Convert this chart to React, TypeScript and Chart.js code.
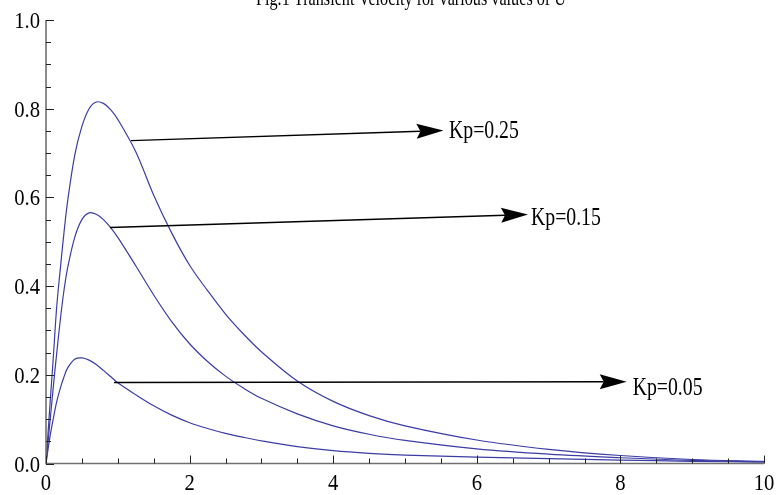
import React, { useEffect, useRef } from "react";
import { Chart, registerables } from "chart.js";

Chart.register(...registerables);

// ---- data ----
const TITLE = "Fig.1 Transient Velocity for various values of U";
const timeValues = [0, 0.05, 0.1, 0.15, 0.2, 0.25, 0.3, 0.4, 0.5, 0.6, 0.7, 0.8, 0.9, 1.0, 1.25, 1.5, 1.75, 2.0, 2.25, 2.5, 2.75, 3.0, 3.5, 4.0, 4.5, 5.0, 6.0, 7.0, 8.0, 9.0, 10.0];
const velocityKp025 = [0, 0.12, 0.235, 0.355, 0.44, 0.52, 0.59, 0.695, 0.76, 0.8, 0.815, 0.812, 0.798, 0.776, 0.703, 0.605, 0.52, 0.447, 0.39, 0.337, 0.292, 0.252, 0.186, 0.14, 0.108, 0.085, 0.053, 0.032, 0.018, 0.009, 0.005];
const velocityKp015 = [0, 0.085, 0.17, 0.25, 0.325, 0.39, 0.44, 0.51, 0.55, 0.565, 0.562, 0.55, 0.532, 0.51, 0.446, 0.38, 0.32, 0.27, 0.23, 0.197, 0.17, 0.147, 0.112, 0.085, 0.066, 0.052, 0.033, 0.021, 0.013, 0.007, 0.004];
const velocityKp005 = [0, 0.055, 0.1, 0.14, 0.17, 0.195, 0.215, 0.235, 0.238, 0.233, 0.223, 0.21, 0.196, 0.182, 0.155, 0.13, 0.109, 0.092, 0.079, 0.068, 0.059, 0.051, 0.038, 0.029, 0.023, 0.019, 0.0145, 0.011, 0.0078, 0.005, 0.003];

const xTickValues = [0, 2, 4, 6, 8, 10];
const xTickLabels = ["0", "2", "4", "6", "8", "10"];
const yTickValues = [0, 0.2, 0.4, 0.6, 0.8, 1.0];
const yTickLabels = ["0.0", "0.2", "0.4", "0.6", "0.8", "1.0"];

const annotationTexts = ["Kp=0.25", "Kp=0.15", "Kp=0.05"];
const arrowStartX = [1.184, 0.891, 0.947];
const arrowStartY = [0.728, 0.532, 0.1826];
const arrowTipX = [5.536, 6.713, 8.088];
const arrowTipY = [0.751, 0.5614, 0.1844];
const labelX = [5.613, 6.755, 8.171];
const labelY = [0.733, 0.5377, 0.1545];

const CURVE_COLOR = "#3c3ca6";
const SERIF = "'Liberation Serif', 'Times New Roman', serif";

function condensedText(ctx: CanvasRenderingContext2D, text: string, x: number, y: number, align: CanvasTextAlign, sx: number) {
  ctx.save();
  ctx.translate(x, y);
  ctx.scale(sx, 1);
  ctx.textAlign = align;
  ctx.textBaseline = "alphabetic";
  ctx.fillText(text, 0, 0);
  ctx.restore();
}

function drawArrow(ctx: CanvasRenderingContext2D, sx: number, sy: number, tx: number, ty: number) {
  const ang = Math.atan2(ty - sy, tx - sx);
  const L = 27, W = 7.5, notch = 4;
  ctx.beginPath();
  ctx.moveTo(sx, sy);
  ctx.lineTo(tx - (L - notch) * Math.cos(ang), ty - (L - notch) * Math.sin(ang));
  ctx.stroke();
  ctx.save();
  ctx.translate(tx, ty);
  ctx.rotate(ang);
  ctx.beginPath();
  ctx.moveTo(0, 0);
  ctx.lineTo(-L, -W);
  ctx.lineTo(-L + notch, 0);
  ctx.lineTo(-L, W);
  ctx.closePath();
  ctx.fill();
  ctx.restore();
}

const decorPlugin = {
  id: "decor",
  afterDatasetsDraw(chart: any) {
    const ctx: CanvasRenderingContext2D = chart.ctx;
    const xs = chart.scales.x;
    const ys = chart.scales.y;
    const x0 = xs.getPixelForValue(0);
    const x1 = xs.getPixelForValue(10);
    const y0 = ys.getPixelForValue(0);
    const y1 = ys.getPixelForValue(1);
    ctx.save();

    // axes
    ctx.strokeStyle = "#707070";
    ctx.lineWidth = 1.6;
    ctx.beginPath();
    ctx.moveTo(x0, y1);
    ctx.lineTo(x0, y0);
    ctx.lineTo(x1, y0);
    ctx.stroke();

    // ticks
    ctx.strokeStyle = "#222";
    ctx.lineWidth = 1;
    ctx.beginPath();
    for (let i = 0; i <= 20; i++) {
      const v = i * 0.5;
      const px = Math.round(xs.getPixelForValue(v)) + 0.5;
      const len = i % 4 === 0 ? 8 : 5;
      ctx.moveTo(px, y0);
      ctx.lineTo(px, y0 - len);
    }
    for (let i = 0; i <= 20; i++) {
      const v = i * 0.05;
      const py = Math.round(ys.getPixelForValue(v)) + 0.5;
      const len = i % 4 === 0 ? 8 : 5;
      ctx.moveTo(x0, py);
      ctx.lineTo(x0 + len, py);
    }
    ctx.stroke();

    // tick labels
    ctx.fillStyle = "#000";
    ctx.font = `24px ${SERIF}`;
    xTickValues.forEach((v, i) => {
      condensedText(ctx, xTickLabels[i], xs.getPixelForValue(v), y0 + 26.5, "center", 0.86);
    });
    yTickValues.forEach((v, i) => {
      condensedText(ctx, yTickLabels[i], x0 - 6, ys.getPixelForValue(v) + 8, "right", 0.86);
    });

    // title (partially off the top)
    ctx.font = `21px ${SERIF}`;
    const tw = ctx.measureText(TITLE).width;
    condensedText(ctx, TITLE, (x0 + x1) / 2 + 6, 5, "center", 310 / tw);

    // arrows & labels
    ctx.strokeStyle = "#000";
    ctx.fillStyle = "#000";
    ctx.lineWidth = 1.4;
    for (let i = 0; i < annotationTexts.length; i++) {
      drawArrow(
        ctx,
        xs.getPixelForValue(arrowStartX[i]),
        ys.getPixelForValue(arrowStartY[i]),
        xs.getPixelForValue(arrowTipX[i]),
        ys.getPixelForValue(arrowTipY[i])
      );
    }
    ctx.font = `25px ${SERIF}`;
    for (let i = 0; i < annotationTexts.length; i++) {
      condensedText(ctx, annotationTexts[i], xs.getPixelForValue(labelX[i]), ys.getPixelForValue(labelY[i]), "left", 0.79);
    }
    ctx.restore();
  },
};

function toPoints(vals: number[]) {
  return timeValues.map((t, i) => ({ x: t, y: vals[i] }));
}

export default function App() {
  const ref = useRef<HTMLCanvasElement | null>(null);
  useEffect(() => {
    if (!ref.current) return;
    const mk = (label: string, vals: number[]) => ({
      label,
      data: toPoints(vals),
      borderColor: CURVE_COLOR,
      borderWidth: 1.2,
      pointRadius: 0,
      fill: false,
      tension: 0.35,
    });
    const chart = new Chart(ref.current, {
      type: "line",
      data: {
        datasets: [mk("Kp=0.25", velocityKp025), mk("Kp=0.15", velocityKp015), mk("Kp=0.05", velocityKp005)],
      },
      options: {
        animation: false,
        responsive: false,
        layout: { padding: { left: 46, right: 16, top: 20, bottom: 31.5 } },
        plugins: { legend: { display: false }, tooltip: { enabled: false }, title: { display: false } },
        scales: {
          x: {
            type: "linear",
            min: 0,
            max: 10,
            display: false,
            afterFit: (s: any) => { s.height = 0; },
          },
          y: {
            type: "linear",
            min: 0,
            max: 1,
            display: false,
            afterFit: (s: any) => { s.width = 0; },
          },
        },
      },
      plugins: [decorPlugin],
    });
    return () => chart.destroy();
  }, []);
  return (
    <div style={{ position: "fixed", left: 0, top: 0, width: 780, height: 495, background: "#fff" }}>
      <canvas ref={ref} width={780} height={495} style={{ display: "block" }} />
    </div>
  );
}
